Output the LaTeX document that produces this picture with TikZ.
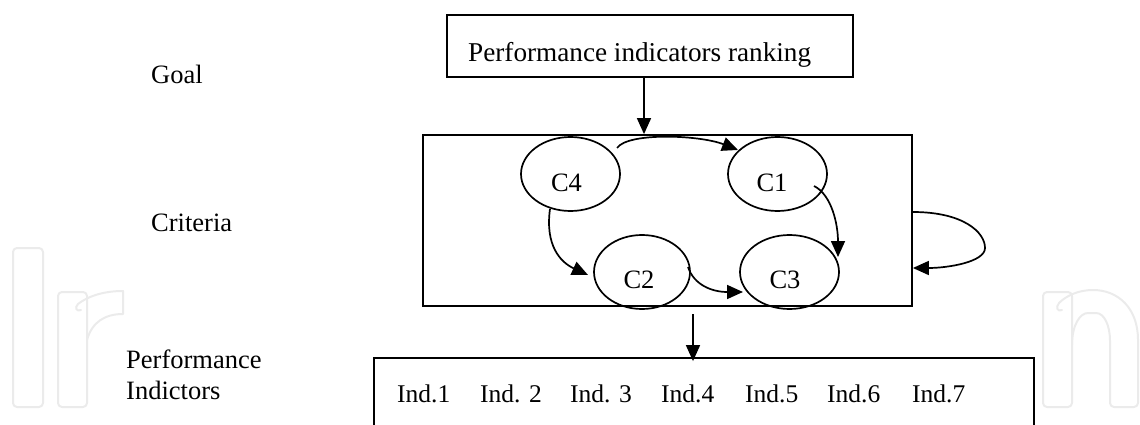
\documentclass[tikz,border=0pt]{standalone}
\usepackage{fontspec}
\setmainfont{Liberation Serif}
\usetikzlibrary{arrows.meta,shapes.geometric}

\begin{document}
\begin{tikzpicture}[x=1pt,y=-1pt,
  box/.style={draw,line width=1.8pt,rectangle,inner sep=0pt},
  crit/.style={draw,line width=1.7pt,ellipse,inner sep=0pt,
    minimum width=99pt,minimum height=74pt},
  lbl/.style={font=\fontsize{26.5}{31}\selectfont,inner sep=0pt,anchor=base west},
  ind/.style={font=\fontsize{25.5}{30}\selectfont,inner sep=0pt,anchor=base west},
  arr/.style={line width=1.7pt,-{Triangle[length=16pt,width=14pt]}},
  wmark/.style={draw=black!8,line width=2pt,line join=round,line cap=round}]

\clip (0,0) rectangle (1140,425);

% faint publisher logo in the background
\draw[wmark,rounded corners=4pt] (13,248) rectangle (43,407);
\draw[wmark,rounded corners=4pt] (58,292) rectangle (87,407);
\draw[wmark] (87,340) .. controls (92,322) and (105,314) .. (123,314) -- (123,291)
  .. controls (102,291) and (87,297) .. (78,304)
  .. controls (74,308) and (77,312) .. (81,310);
\draw[wmark,rounded corners=4pt] (1043,292) rectangle (1072,407);
\draw[wmark,rounded corners=4pt] (1072,345) .. controls (1072,325) and (1080,313) .. (1092,313)
  .. controls (1104,313) and (1110,325) .. (1110,345) -- (1110,407) -- (1138,407) -- (1138,340);
\draw[wmark] (1138,340) .. controls (1138,308) and (1118,290) .. (1093,290)
  .. controls (1078,290) and (1066,296) .. (1059,303)
  .. controls (1055,308) and (1058,312) .. (1062,310);

% level captions
\node[lbl] (goal) at (151,84) {Goal};
\node[lbl] (criteria) at (151,231) {Criteria};
\node[lbl] (perf) at (126,368) {Performance};
\node[lbl] (indic) at (126,399) {Indictors};

% goal box
\node[box,minimum width=406pt,minimum height=62pt] (rank) at (650,46) {};
\node[lbl,font=\fontsize{27.2}{31}\selectfont] (ranktext) at (468,62) {Performance indicators ranking};

% criteria box with its four criteria
\node[box,minimum width=489pt,minimum height=171pt] (critbox) at (667.5,220.5) {};
\node[crit] (c4) at (570.5,174) {};
\node[crit] (c1) at (777.5,174) {};
\node[crit,minimum width=96pt] (c2) at (642,272) {};
\node[crit] (c3) at (789.5,272) {};
\node[lbl,anchor=base] (t4) at ([shift={(-4,17)}]c4.center) {C4};
\node[lbl,anchor=base] (t1) at ([shift={(-5.5,17)}]c1.center) {C1};
\node[lbl,anchor=base] (t2) at ([shift={(-3,16)}]c2.center) {C2};
\node[lbl,anchor=base] (t3) at ([shift={(-4.5,16)}]c3.center) {C3};

% indicators box
\node[box,minimum width=660pt,minimum height=90pt] (inds) at (704,403) {};
\node[ind] (i1) at (397,402) {Ind.1};
\node[ind] (i2) at (480,402) {Ind. 2};
\node[ind] (i3) at (570,402) {Ind. 3};
\node[ind] (i4) at (661,402) {Ind.4};
\node[ind] (i5) at (745,402) {Ind.5};
\node[ind] (i6) at (827,402) {Ind.6};
\node[ind] (i7) at (912,402) {Ind.7};

% links between levels
\draw[arr] ([shift={(-6,0)}]rank.south) -- ([shift={(-23.5,0)}]critbox.north);
\coordinate (drop) at (693,314);
\draw[arr,shorten >=-4pt] (drop) -- (drop |- inds.north);

% influences among criteria
\draw[arr] ([shift={(46.5,-26)}]c4.center) .. controls +(11,-16) and +(-38,-15)
  .. ([shift={(-39.5,-24)}]c1.center);
\draw[arr] ([shift={(-20.5,35)}]c4.center) .. controls +(-5,36) and +(-28,-13)
  .. ([shift={(-54,3)}]c2.center);
\draw[arr] ([shift={(36.5,12)}]c1.center) .. controls +(18,9) and +(0,-32)
  .. ([shift={(48.5,-15)}]c3.center);
\draw[arr] ([shift={(46,-5)}]c2.center) .. controls +(6,18) and +(-31,0)
  .. ([shift={(-46.5,20)}]c3.center);

% feedback loop on the criteria level
\coordinate (loopturn) at (985,248);
\draw[arr] ([shift={(0,-8.5)}]critbox.east) .. controls +(50,0) and +(0,-16) .. (loopturn)
  .. controls +(0,14) and +(35,0) .. ([shift={(0,47.5)}]critbox.east);
\end{tikzpicture}
\end{document}
